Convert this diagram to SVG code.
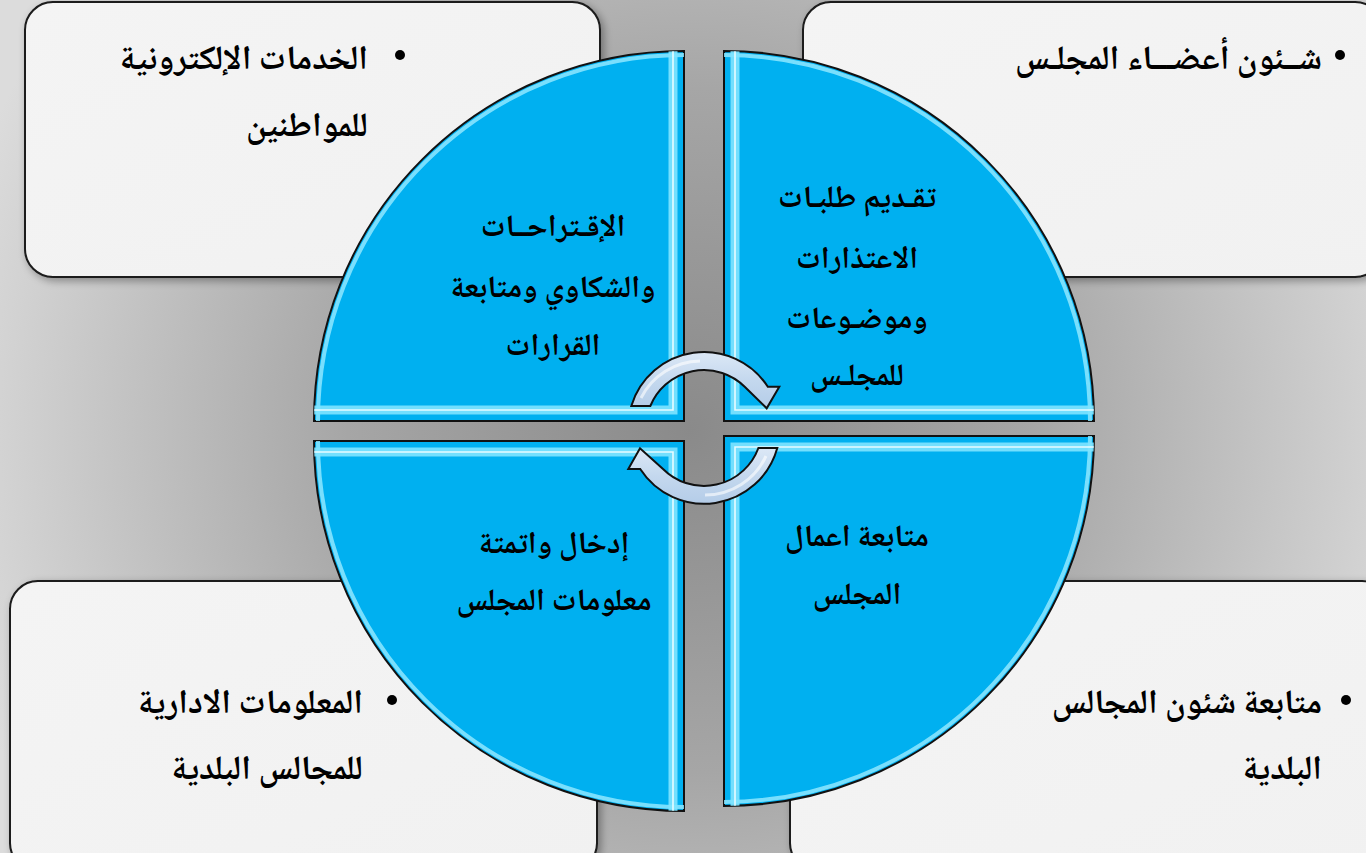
<svg xmlns="http://www.w3.org/2000/svg" width="1366" height="853" viewBox="0 0 1366 853">
<defs>
<radialGradient id="bg" cx="690" cy="430" r="760" gradientUnits="userSpaceOnUse">
<stop offset="0" stop-color="#8A8A8A"/>
<stop offset="0.45" stop-color="#A6A6A6"/>
<stop offset="1" stop-color="#DCDCDC"/>
</radialGradient>
<linearGradient id="boxg" x1="0" y1="0" x2="1" y2="1">
<stop offset="0" stop-color="#F4F4F4"/>
<stop offset="1" stop-color="#F1F1F1"/>
</linearGradient>
<linearGradient id="arrg" x1="0" y1="0" x2="0" y2="1">
<stop offset="0" stop-color="#DCE8F6"/>
<stop offset="0.5" stop-color="#C4D8EE"/>
<stop offset="1" stop-color="#B4CCE8"/>
</linearGradient>
<filter id="sh" x="-5%" y="-5%" width="115%" height="115%">
<feGaussianBlur in="SourceAlpha" stdDeviation="4"/>
<feOffset dx="3" dy="3"/>
<feComponentTransfer><feFuncA type="linear" slope="0.35"/></feComponentTransfer>
<feMerge><feMergeNode/><feMergeNode in="SourceGraphic"/></feMerge>
</filter>
<clipPath id="cTL"><path d="M684 421 L314 421 A370 370 0 0 1 684 51 Z"/></clipPath>
<clipPath id="cTR"><path d="M724 421 L724 51 A370 370 0 0 1 1094 421 Z"/></clipPath>
<clipPath id="cBL"><path d="M684 441 L684 811 A370 370 0 0 1 314 441 Z"/></clipPath>
<clipPath id="cBR"><path d="M724 436 L1094 436 A370 370 0 0 1 724 806 Z"/></clipPath>
</defs>
<style>
.box{fill:url(#boxg);stroke:#1A1A1A;stroke-width:2}
.q{fill:#00B0F0;stroke:#111;stroke-width:2}
.band{fill:none;stroke:#7FE4FF;stroke-width:9;stroke-linejoin:miter;opacity:0.9}
.bandw{fill:none;stroke:#E8FCFF;stroke-width:1.6;stroke-linejoin:miter}
.arch{fill:none;stroke:#8EE8FF;stroke-width:4;opacity:0.85}
.t{font-family:"Noto Naskh Arabic","DejaVu Sans",sans-serif;font-weight:bold;fill:#000}
.tb{font-size:34px}
.tq{font-size:31px}
.tc{text-anchor:middle}
.tr{text-anchor:end}
.arr{fill:url(#arrg);stroke:#111;stroke-width:2;stroke-linejoin:miter}
.arrh{fill:none;stroke:#FFFFFF;stroke-width:3;opacity:0.6}
</style>
<rect x="0" y="0" width="1366" height="853" fill="url(#bg)"/>

<g id="box-tl">
<rect class="box" x="25" y="2" width="575" height="275" rx="28" filter="url(#sh)"/>
<circle cx="400" cy="55" r="5"/>
<text class="t tb tr" x="368" y="69">الخدمات الإلكترونية</text>
<text class="t tb tr" x="368" y="136">للمواطنين</text>
</g>
<g id="box-tr">
<rect class="box" x="803" y="2" width="580" height="275" rx="28" filter="url(#sh)"/>
<circle cx="1340" cy="55" r="5"/>
<text class="t tb tr" x="1322" y="69">شــئون أعضـــاء المجلـس</text>
</g>
<g id="box-bl">
<rect class="box" x="10" y="581" width="587" height="290" rx="28" filter="url(#sh)"/>
<circle cx="392" cy="700" r="5"/>
<text class="t tb tr" x="363" y="713">المعلومات الادارية</text>
<text class="t tb tr" x="363" y="779">للمجالس البلدية</text>
</g>
<g id="box-br">
<rect class="box" x="790" y="581" width="600" height="290" rx="28" filter="url(#sh)"/>
<circle cx="1346" cy="700" r="5"/>
<text class="t tb tr" x="1322" y="713">متابعة شئون المجالس</text>
<text class="t tb tr" x="1322" y="779">البلدية</text>
</g>

<g id="q-tl">
<path class="q" d="M684 421 L314 421 A370 370 0 0 1 684 51 Z"/>
<g clip-path="url(#cTL)">
<path class="arch" d="M318 421 A366 366 0 0 1 684 55"/>
<polyline class="band" points="673,40 673,410 300,410"/>
<polyline class="bandw" points="673,40 673,410 300,410"/>
</g>
<text class="t tq tc" x="553" y="236">الإقـتراحــات</text>
<text class="t tq tc" x="553" y="297">والشكاوي ومتابعة</text>
<text class="t tq tc" x="553" y="355">القرارات</text>
</g>
<g id="q-tr">
<path class="q" d="M724 421 L724 51 A370 370 0 0 1 1094 421 Z"/>
<g clip-path="url(#cTR)">
<path class="arch" d="M724 55 A366 366 0 0 1 1090 421"/>
<polyline class="band" points="735,40 735,410 1110,410"/>
<polyline class="bandw" points="735,40 735,410 1110,410"/>
</g>
<text class="t tq tc" x="857" y="207">تقـديم طلبـات</text>
<text class="t tq tc" x="857" y="268">الاعتذارات</text>
<text class="t tq tc" x="857" y="328">وموضـوعات</text>
<text class="t tq tc" x="857" y="385">للمجلـس</text>
</g>
<g id="q-bl">
<path class="q" d="M684 441 L684 811 A370 370 0 0 1 314 441 Z"/>
<g clip-path="url(#cBL)">
<path class="arch" d="M684 807 A366 366 0 0 1 318 441"/>
<polyline class="band" points="300,452 673,452 673,830"/>
<polyline class="bandw" points="300,452 673,452 673,830"/>
</g>
<text class="t tq tc" x="554" y="553">إدخال واتمتة</text>
<text class="t tq tc" x="554" y="610">معلومات المجلس</text>
</g>
<g id="q-br">
<path class="q" d="M724 436 L1094 436 A370 370 0 0 1 724 806 Z"/>
<g clip-path="url(#cBR)">
<path class="arch" d="M1090 436 A366 366 0 0 1 724 802"/>
<polyline class="band" points="1110,447 735,447 735,830"/>
<polyline class="bandw" points="1110,447 735,447 735,830"/>
</g>
<text class="t tq tc" x="857" y="546">متابعة اعمال</text>
<text class="t tq tc" x="857" y="604">المجلس</text>
</g>

<g id="connectors">
<path class="arr" d="M631.3 406 A76 76 0 0 1 767.8 386.7 L779.3 386.7 L766.7 408.3 L744.7 386.7 A58 58 0 0 0 650.3 406 Z"/>
<path class="arrh" d="M641 398 A67 67 0 0 1 700 361"/>
<path class="arr" d="M777.3 448 A76 76 0 0 1 640.2 469 L628.3 469 L640 448.3 L663 469 A58 58 0 0 0 758.4 448 Z"/>
<path class="arrh" d="M766 456 A67 67 0 0 1 705 495"/>
</g>
</svg>
